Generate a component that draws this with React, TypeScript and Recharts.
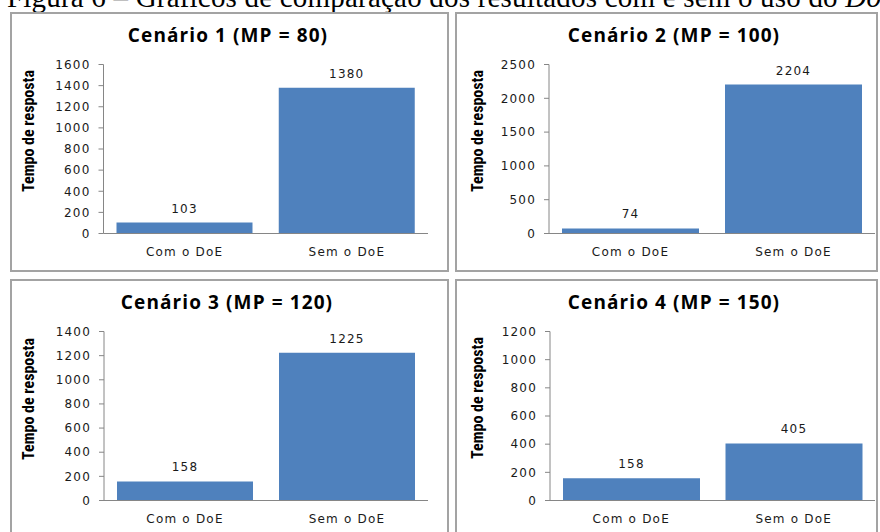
import React from 'react';
import { BarChart, Bar, XAxis, YAxis, LabelList } from 'recharts';

// ---- data ----
const categories = ['Com o DoE', 'Sem o DoE'];
const scenarioTitles = [
  'Cenário 1 (MP = 80)',
  'Cenário 2 (MP = 100)',
  'Cenário 3 (MP = 120)',
  'Cenário 4 (MP = 150)',
];
const cenario1 = [103, 1380];
const cenario2 = [74, 2204];
const cenario3 = [158, 1225];
const cenario4 = [158, 405];
const ticks1 = [0, 200, 400, 600, 800, 1000, 1200, 1400, 1600];
const ticks2 = [0, 500, 1000, 1500, 2000, 2500];
const ticks3 = [0, 200, 400, 600, 800, 1000, 1200, 1400];
const ticks4 = [0, 200, 400, 600, 800, 1000, 1200];
const yAxisTitle = 'Tempo de resposta';
const captionText = 'Figura 6 – Gráficos de comparação dos resultados com e sem o uso do ';
const captionItalic = 'DoE';

// ---- styling / layout ----
const BORDER = 2;
const PLOT_TOP = 50.5; // from inner top of a panel
const PLOT_BOTTOM = 219.5;
const X_AXIS_H = 30;
const Y_AXIS_W = 45;
const BAR_COLOR = '#4F81BD';
const AXIS_COLOR = '#868686';
const TEXT_COLOR = '#1a1a1a';
const smallFont = {
  fontFamily: '"DejaVu Sans", Verdana, sans-serif',
  fontSize: 12,
  letterSpacing: 1.2,
  fill: TEXT_COLOR,
};

type Box = { x: number; y: number; w: number; h: number };

type PanelProps = {
  title: string;
  values: number[];
  ticks: number[];
  box: Box;
  plotLeft: number;
  plotRight: number;
  titleX: number;
  titleBaseline: number;
  labelX: number;
  labelY: number;
};

function Panel({ title, values, ticks, box, plotLeft, plotRight, titleX, titleBaseline, labelX, labelY }: PanelProps) {
  const data = categories.map((c, i) => ({ categoria: c, tempo: values[i] }));
  const innerX = box.x + BORDER;
  const innerY = box.y + BORDER;
  const innerW = box.w - 2 * BORDER;
  const innerH = box.h - 2 * BORDER;
  const margin = {
    top: PLOT_TOP,
    bottom: innerH - PLOT_BOTTOM - X_AXIS_H,
    left: plotLeft - innerX - Y_AXIS_W,
    right: innerX + innerW - plotRight,
  };
  return (
    <div
      style={{
        position: 'absolute',
        left: box.x,
        top: box.y,
        width: box.w,
        height: box.h,
        boxSizing: 'border-box',
        border: `${BORDER}px solid #a3a3a3`,
        background: '#fff',
      }}
    >
      <BarChart width={innerW} height={innerH} data={data} margin={margin} barCategoryGap={13}>
        <XAxis
          dataKey="categoria"
          interval={0}
          height={X_AXIS_H}
          axisLine={{ stroke: AXIS_COLOR, strokeWidth: 1 }}
          tickLine={false}
          tickSize={0}
          tickMargin={14}
          tick={smallFont}
        />
        <YAxis
          type="number"
          domain={[0, ticks[ticks.length - 1]]}
          ticks={ticks}
          interval={0}
          width={Y_AXIS_W}
          axisLine={{ stroke: AXIS_COLOR, strokeWidth: 1 }}
          tickLine={{ stroke: AXIS_COLOR, strokeWidth: 1 }}
          tickSize={5}
          tickMargin={8}
          tick={smallFont}
        />
        <Bar dataKey="tempo" fill={BAR_COLOR} isAnimationActive={false}>
          <LabelList dataKey="tempo" position="top" offset={10} style={smallFont} />
        </Bar>
      </BarChart>
      <svg
        width={innerW}
        height={innerH}
        style={{ position: 'absolute', left: 0, top: 0, pointerEvents: 'none' }}
      >
        <text
          x={titleX - innerX}
          y={titleBaseline - innerY}
          textAnchor="middle"
          fontFamily='"Open Sans", sans-serif'
          fontWeight={700}
          fontSize={19}
          letterSpacing={1.1}
          fill="#000"
        >
          {title}
        </text>
        <text
          transform={`translate(${labelX - innerX},${labelY - innerY}) rotate(-90)`}
          textAnchor="middle"
          fontFamily='"Liberation Sans Narrow", "Roboto Condensed", Roboto, sans-serif'
          fontWeight={700}
          fontSize={16}
          fill="#000"
        >
          {yAxisTitle}
        </text>
      </svg>
    </div>
  );
}

export default function App() {
  return (
    <div
      style={{
        position: 'absolute',
        left: 0,
        top: 0,
        width: 880,
        height: 532,
        overflow: 'hidden',
        background: '#fff',
      }}
    >
      <svg width={880} height={20} style={{ position: 'absolute', left: 0, top: 0 }}>
        <text
          x={7}
          y={6.5}
          fontFamily='"Liberation Serif", "Times New Roman", serif'
          fontSize={29}
          letterSpacing={0.2}
          fill="#000"
        >
          {captionText}
          <tspan fontStyle="italic">{captionItalic}</tspan>
        </text>
      </svg>
      <Panel
        title={scenarioTitles[0]}
        values={cenario1}
        ticks={ticks1}
        box={{ x: 10, y: 12, w: 439, h: 260 }}
        plotLeft={103.5}
        plotRight={428}
        titleX={228}
        titleBaseline={42}
        labelX={34}
        labelY={131}
      />
      <Panel
        title={scenarioTitles[1]}
        values={cenario2}
        ticks={ticks2}
        box={{ x: 455, y: 12, w: 423, h: 260 }}
        plotLeft={549}
        plotRight={875}
        titleX={674}
        titleBaseline={42}
        labelX={483}
        labelY={131}
      />
      <Panel
        title={scenarioTitles[2]}
        values={cenario3}
        ticks={ticks3}
        box={{ x: 10, y: 279, w: 439, h: 260 }}
        plotLeft={104}
        plotRight={428}
        titleX={227}
        titleBaseline={309}
        labelX={34}
        labelY={399}
      />
      <Panel
        title={scenarioTitles[3]}
        values={cenario4}
        ticks={ticks4}
        box={{ x: 455, y: 279, w: 423, h: 260 }}
        plotLeft={550}
        plotRight={875}
        titleX={674}
        titleBaseline={309}
        labelX={483}
        labelY={398}
      />
    </div>
  );
}
